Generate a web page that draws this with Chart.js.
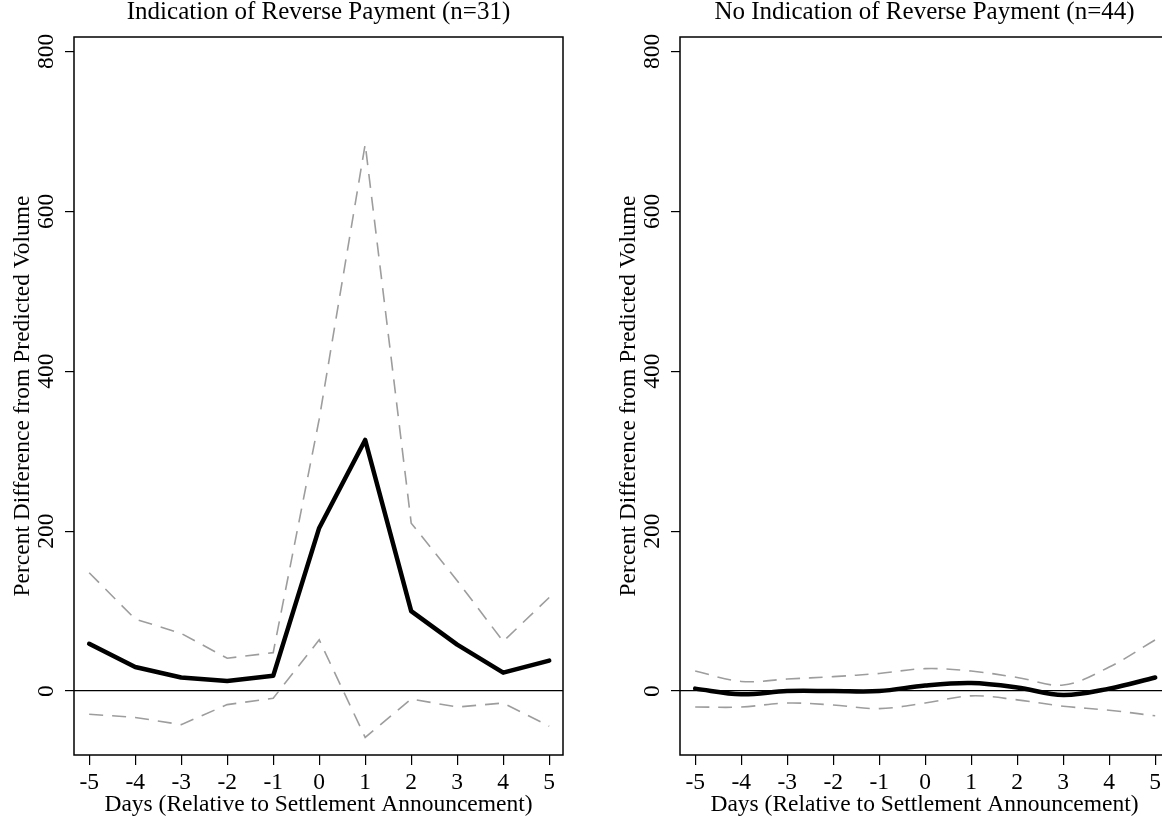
<!DOCTYPE html>
<html>
<head>
<meta charset="utf-8">
<script src="https://cdn.jsdelivr.net/npm/chart.js@4.4.1/dist/chart.umd.min.js"></script>
<style>
    html, body { margin: 0; padding: 0; background: #fff; overflow: hidden; }
    body { width: 1162px; height: 823px; position: relative; }
    canvas { position: absolute; top: 0; }
    #panel_rev { left: 0; }
    #panel_norev { left: 606px; }
</style>
</head>
<body>
<canvas id="panel_rev" width="581" height="823"></canvas>
<canvas id="panel_norev" width="581" height="823"></canvas>
<script>
const days = [-5, -4, -3, -2, -1, 0, 1, 2, 3, 4, 5];
const yTicks = [0, 200, 400, 600, 800];

// Indication of reverse payment
const revMean  = [59, 30, 17, 12.5, 19, 204, 314, 100, 58, 23, 38];
const revUpper = [148, 90, 72, 41, 48, 340, 684, 210, 138, 62, 117];
const revLower = [-29, -33, -42, -17, -9, 64, -58, -10, -20, -15, -44];

// No indication of reverse payment
const noRevMean  = [3, -4, 0, 0, 0, 7, 10, 4.5, -5, 3, 17];
const noRevUpper = [25, 12, 15, 18, 22, 28, 25, 17, 7.5, 30, 64];
const noRevLower = [-20, -20, -15, -17.5, -22, -15, -6, -11, -19, -24, -31];

Chart.defaults.font.family = '"Liberation Serif", "Times New Roman", serif';
Chart.defaults.color = '#000';

const FONT = 23.5;

/* =========================
   Box round the plot area
========================= */
const boxPlugin = {
    id: 'box',
    afterDatasetsDraw(chart) {
        const { ctx, chartArea: a } = chart;
        ctx.save();
        ctx.strokeStyle = '#000';
        ctx.lineWidth = 1.5;
        ctx.strokeRect(a.left, a.top, a.right - a.left, a.bottom - a.top);
        ctx.restore();
    }
};

function points(values) {
    return days.map((d, i) => ({ x: d, y: values[i] }));
}

function makePanel(id, title, mean, upper, lower, tension) {
    const dashed = {
        borderColor: '#9d9d9d',
        borderWidth: 1.6,
        borderDash: [14, 9],
        pointRadius: 0,
        tension: tension
    };

    return new Chart(document.getElementById(id), {
        type: 'line',
        data: {
            datasets: [
                Object.assign({ data: points(upper) }, dashed),
                Object.assign({ data: points(lower) }, dashed),
                {
                    data: points(mean),
                    borderColor: '#000',
                    borderWidth: 4.5,
                    borderJoinStyle: 'round',
                    borderCapStyle: 'round',
                    pointRadius: 0,
                    tension: tension
                }
            ]
        },
        options: {
            responsive: false,
            animation: false,
            layout: { padding: { left: 0, right: 18, top: 0, bottom: 0 } },
            plugins: {
                legend: { display: false },
                tooltip: { enabled: false },
                title: {
                    display: true,
                    text: title,
                    fullSize: false,
                    color: '#000',
                    font: { size: 25, weight: 'normal', lineHeight: 1 },
                    padding: { top: 0, bottom: 12 }
                }
            },
            scales: {
                x: {
                    type: 'linear',
                    min: -5.33,
                    max: 5.3,
                    afterBuildTicks: s => { s.ticks = days.map(v => ({ value: v })); },
                    afterFit: s => { s.height = 68; },
                    border: { display: false },
                    grid: { drawOnChartArea: false, tickLength: 10, tickColor: '#000', lineWidth: 1.2 },
                    ticks: { font: { size: FONT }, padding: 4, maxRotation: 0, color: '#000' },
                    title: {
                        display: true,
                        text: 'Days (Relative to Settlement Announcement)',
                        font: { size: FONT },
                        padding: { top: 0, bottom: 4 },
                        color: '#000'
                    }
                },
                y: {
                    type: 'linear',
                    min: -80,
                    max: 818,
                    afterBuildTicks: s => { s.ticks = yTicks.map(v => ({ value: v })); },
                    afterFit: s => { s.width = 74; },
                    border: { display: false },
                    grid: {
                        drawOnChartArea: true,
                        color: c => (c.tick && c.tick.value === 0 ? '#000' : 'rgba(0,0,0,0)'),
                        tickColor: '#000',
                        tickLength: 9,
                        lineWidth: 1.2
                    },
                    ticks: {
                        font: { size: FONT },
                        minRotation: 90,
                        maxRotation: 90,
                        crossAlign: 'center',
                        padding: 1,
                        color: '#000'
                    },
                    title: {
                        display: true,
                        text: 'Percent Difference from Predicted Volume',
                        font: { size: FONT },
                        padding: { top: 9, bottom: 0 },
                        color: '#000'
                    }
                }
            }
        },
        plugins: [boxPlugin]
    });
}

makePanel('panel_rev', 'Indication of Reverse Payment (n=31)', revMean, revUpper, revLower, 0);
makePanel('panel_norev', 'No Indication of Reverse Payment (n=44)', noRevMean, noRevUpper, noRevLower, 0.35);
</script>
</body>
</html>
